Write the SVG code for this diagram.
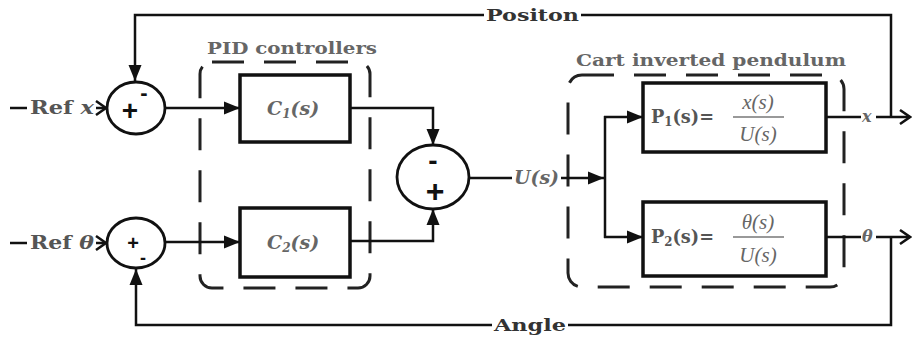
<svg xmlns="http://www.w3.org/2000/svg" width="912" height="340" viewBox="0 0 912 340">
<defs>
<marker id="arr" markerUnits="userSpaceOnUse" markerWidth="18" markerHeight="14" refX="16" refY="7" orient="auto"><path d="M0,0.5 L16,7 L0,13.5 z" fill="#111"/></marker>
<marker id="open" markerUnits="userSpaceOnUse" markerWidth="14" markerHeight="16" refX="11" refY="8" orient="auto"><path d="M1,1 L11,8 L1,15" fill="none" stroke="#111" stroke-width="2.5"/></marker>
<style>
.ln{fill:none;stroke:#111;stroke-width:2.5}
.blk{fill:#fff;stroke:#111;stroke-width:3.5}
.sum{fill:#fff;stroke:#111;stroke-width:2.8}
.dash{fill:none;stroke:#222;stroke-width:3;stroke-dasharray:32 20}
.lab{font-family:"DejaVu Serif","Liberation Serif",serif;font-weight:bold;fill:#333;font-size:16px}
.grp{font-family:"DejaVu Serif","Liberation Serif",serif;font-weight:bold;fill:#666;font-size:17px}
.ref{font-family:"DejaVu Serif","Liberation Serif",serif;font-weight:bold;fill:#555;font-size:18px}
.tf{font-family:"DejaVu Serif","Liberation Serif",serif;font-style:italic;font-weight:bold;fill:#666;font-size:18px}
.frac{font-family:"Liberation Serif","DejaVu Serif",serif;font-style:italic;fill:#666;font-size:21px}
.eq{font-family:"DejaVu Serif","Liberation Serif",serif;font-weight:bold;fill:#555;font-size:18px}
.sg{font-family:"Liberation Sans",sans-serif;fill:#111;font-weight:bold}
</style>
</defs>
<rect width="912" height="340" fill="#fff"/>
<g id="pid-group">
<rect class="dash" x="200" y="62" width="170" height="226" rx="12"/>
<text class="grp" x="207" y="54" textLength="170" lengthAdjust="spacingAndGlyphs">PID controllers</text>
</g>
<g id="cart-group">
<rect class="dash" x="568" y="75" width="276" height="212" rx="14"/>
<text class="grp" x="576" y="66" textLength="270" lengthAdjust="spacingAndGlyphs">Cart inverted pendulum</text>
</g>
<g id="connectors">
<line class="ln" x1="10" y1="108" x2="27" y2="108"/>
<line class="ln" x1="96" y1="108" x2="106" y2="108" marker-end="url(#open)"/>
<line class="ln" x1="10" y1="243" x2="27" y2="243"/>
<line class="ln" x1="96" y1="243" x2="106" y2="243" marker-end="url(#open)"/>
<line class="ln" x1="165" y1="108" x2="240" y2="108" marker-end="url(#arr)"/>
<line class="ln" x1="165" y1="242" x2="240" y2="242" marker-end="url(#arr)"/>
<polyline class="ln" points="350,108 433,108 433,145" marker-end="url(#arr)"/>
<polyline class="ln" points="350,241 433,241 433,209" marker-end="url(#arr)"/>
<line class="ln" x1="469" y1="178" x2="512" y2="178"/>
<line class="ln" x1="561" y1="178" x2="604" y2="178" marker-end="url(#arr)"/>
<line class="ln" x1="605" y1="116" x2="605" y2="238"/>
<line class="ln" x1="604" y1="117" x2="643" y2="117" marker-end="url(#arr)"/>
<line class="ln" x1="604" y1="237" x2="643" y2="237" marker-end="url(#arr)"/>
<line class="ln" x1="826" y1="117" x2="861" y2="117"/>
<line class="ln" x1="876" y1="117" x2="910" y2="117" marker-end="url(#open)"/>
<line class="ln" x1="826" y1="237" x2="861" y2="237"/>
<line class="ln" x1="876" y1="237" x2="910" y2="237" marker-end="url(#open)"/>
<polyline class="ln" points="891,117 891,15 581,15"/>
<polyline class="ln" points="484,15 135,15 135,81" marker-end="url(#arr)"/>
<polyline class="ln" points="891,237 891,325 568,325"/>
<polyline class="ln" points="492,325 136,325 136,269" marker-end="url(#arr)"/>
<text class="lab" x="486" y="21" textLength="93" lengthAdjust="spacingAndGlyphs">Positon</text>
<text class="lab" x="494" y="331" textLength="72" lengthAdjust="spacingAndGlyphs">Angle</text>
<text class="tf" x="514" y="184" textLength="45" lengthAdjust="spacingAndGlyphs">U(s)</text>
<text class="tf" x="862" y="122" style="font-size:16px">x</text>
<text class="tf" x="862" y="242" style="font-size:16px">θ</text>
</g>
<g id="ref-x">
<text class="ref" x="30" y="114" textLength="64" lengthAdjust="spacingAndGlyphs">Ref <tspan font-style="italic">x</tspan></text>
</g>
<g id="ref-theta">
<text class="ref" x="30" y="249" textLength="64" lengthAdjust="spacingAndGlyphs">Ref <tspan font-style="italic">θ</tspan></text>
</g>
<g id="sum1">
<ellipse class="sum" cx="136" cy="108" rx="29" ry="26"/>
<text class="sg" x="130" y="120" style="font-size:28px" text-anchor="middle">+</text>
<text class="sg" x="144" y="100" style="font-size:22px" text-anchor="middle">-</text>
</g>
<g id="sum2">
<ellipse class="sum" cx="136" cy="243" rx="29" ry="25"/>
<text class="sg" x="133" y="250" style="font-size:20px" text-anchor="middle">+</text>
<text class="sg" x="143" y="264" style="font-size:18px" text-anchor="middle">-</text>
</g>
<g id="sum3">
<ellipse class="sum" cx="433" cy="177" rx="36" ry="32"/>
<text class="sg" x="433" y="170" style="font-size:28px" text-anchor="middle">-</text>
<text class="sg" x="435" y="202" style="font-size:32px" text-anchor="middle">+</text>
</g>
<g id="c1">
<rect class="blk" x="240" y="75" width="110" height="67"/>
<text class="tf" x="267" y="115" style="font-size:19px">C<tspan style="font-size:12px" dy="3">1</tspan><tspan dy="-3">(s)</tspan></text>
</g>
<g id="c2">
<rect class="blk" x="240" y="208" width="110" height="69"/>
<text class="tf" x="267" y="249" style="font-size:19px">C<tspan style="font-size:12px" dy="3">2</tspan><tspan dy="-3">(s)</tspan></text>
</g>
<g id="p1">
<rect class="blk" x="643" y="83" width="183" height="69"/>
<text class="eq" x="651" y="123" textLength="63" lengthAdjust="spacingAndGlyphs">P<tspan style="font-size:12px" dy="3">1</tspan><tspan dy="-3">(s)=</tspan></text>
<text class="frac" x="758" y="109" text-anchor="middle">x(s)</text>
<line x1="733" y1="117" x2="784" y2="117" stroke="#777" stroke-width="1.5"/>
<text class="frac" x="758" y="141" text-anchor="middle">U(s)</text>
</g>
<g id="p2">
<rect class="blk" x="643" y="202" width="183" height="74"/>
<text class="eq" x="651" y="243" textLength="63" lengthAdjust="spacingAndGlyphs">P<tspan style="font-size:12px" dy="3">2</tspan><tspan dy="-3">(s)=</tspan></text>
<text class="frac" x="758" y="229" text-anchor="middle">θ(s)</text>
<line x1="733" y1="237" x2="784" y2="237" stroke="#777" stroke-width="1.5"/>
<text class="frac" x="758" y="262" text-anchor="middle">U(s)</text>
</g>
</svg>
